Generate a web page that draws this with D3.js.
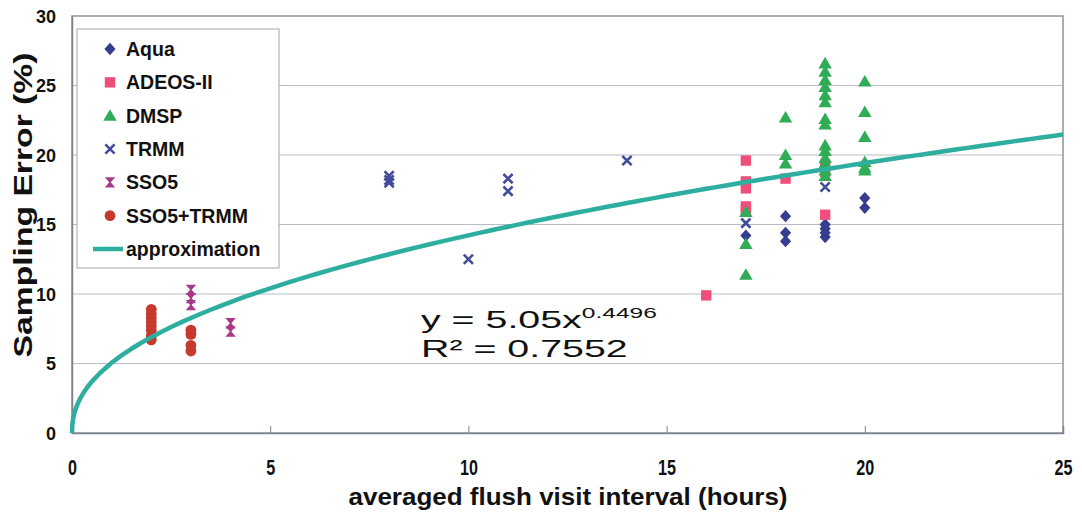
<!DOCTYPE html>
<html><head><meta charset="utf-8">
<script src="https://cdn.jsdelivr.net/npm/d3@7"></script>
<style>html,body{margin:0;padding:0;background:#fff;}svg{display:block;}</style>
</head><body>
<svg id="c" width="1082" height="516"></svg>
<script>
// ---- data ----
const xTicks = [0, 5, 10, 15, 20, 25];
const yTicks = [0, 5, 10, 15, 20, 25, 30];

const aquaX = [17, 18, 18, 18, 19, 19, 19, 19, 20, 20];
const aquaY = [14.2, 15.6, 14.4, 13.8, 15.0, 14.7, 14.4, 14.1, 16.9, 16.2];

const adeosX = [16, 17, 17, 17, 17, 17, 18, 19, 19, 19];
const adeosY = [9.9, 19.6, 18.1, 17.6, 16.3, 16.0, 18.3, 19.3, 18.8, 15.7];

const dmspX = [17, 17, 17, 18, 18, 18, 19, 19, 19, 19, 19, 19, 19, 19, 19, 19, 19, 19, 19, 19, 20, 20, 20, 20, 20, 20];
const dmspY = [15.9, 13.6, 11.4, 22.7, 20.0, 19.4, 26.6, 26.0, 25.4, 24.9, 24.3, 23.8, 22.6, 22.2, 20.7, 20.3, 19.8, 19.4, 18.9, 18.5, 25.3, 23.1, 21.3, 19.5, 19.1, 18.9];

const trmmX = [8, 8, 8, 10, 11, 11, 14, 17, 19];
const trmmY = [18.5, 18.2, 18.0, 12.5, 18.3, 17.4, 19.6, 15.1, 17.7];

const sso5X = [3, 3, 3, 3, 4, 4];
const sso5Y = [10.3, 9.7, 9.2, 7.2, 7.9, 7.3];

const comboX = [2, 2, 2, 2, 2, 2, 2, 2, 3, 3, 3, 3];
const comboY = [8.9, 8.6, 8.3, 8.0, 7.7, 7.4, 7.0, 6.7, 7.4, 7.1, 6.3, 5.9];

// fitted trendline shown on the chart: y = 5.05 x^0.4496
const fitA = 5.05, fitB = 0.4496;
const seriesNames = ["Aqua", "ADEOS-II", "DMSP", "TRMM", "SSO5", "SSO5+TRMM", "approximation"];

// ---- setup ----
const svg = d3.select("#c");
const L = 72, R = 1063, T = 16, B = 433;
const x = d3.scaleLinear().domain([0, 25]).range([L, R]);
const y = d3.scaleLinear().domain([0, 30]).range([B, T]);
const FONT = "'Liberation Sans', Arial, Helvetica, sans-serif";

const colors = {
  aqua: "#363d8e", adeos: "#f04f7c", dmsp: "#2fac55",
  trmm: "#454c9a", sso5: "#a8388b", combo: "#c53a2d", fit: "#2eae9e"
};

// grid
svg.append("g").selectAll("line").data(yTicks.filter(v => v > 0 && v < 30)).join("line")
  .attr("x1", L).attr("x2", R).attr("y1", d => y(d)).attr("y2", d => y(d))
  .attr("stroke", "#b9bcc4").attr("stroke-width", 1);

// frame
svg.append("rect").attr("x", L).attr("y", T).attr("width", R - L).attr("height", B - T)
  .attr("fill", "none").attr("stroke", "#8e949e").attr("stroke-width", 1.5);

// axes
const xAxis = d3.axisBottom(x).tickValues(xTicks).tickSize(-7).tickPadding(0).tickFormat(d3.format("d"));
const gx = svg.append("g").attr("transform", `translate(0,${B})`).call(xAxis);
gx.select(".domain").attr("stroke", "#7d838e").attr("stroke-width", 1.5);
gx.selectAll(".tick line").attr("stroke", "#7d838e");
gx.selectAll(".tick text").attr("y", 0).attr("dy", 0)
  .attr("transform", "translate(0,42) scale(0.85,1.12)")
  .style("font-family", FONT).style("font-weight", "bold").style("font-size", "19px").attr("fill", "#111");

const yAxis = d3.axisLeft(y).tickValues(yTicks).tickSize(0).tickPadding(16).tickFormat(d3.format("d"));
const gy = svg.append("g").attr("transform", `translate(${L},0)`).call(yAxis);
gy.select(".domain").attr("stroke", "#7d838e").attr("stroke-width", 1.5);
gy.selectAll(".tick text").attr("dy", "0.36em")
  .style("font-family", FONT).style("font-weight", "bold").style("font-size", "18px").attr("fill", "#111");

// axis titles
svg.append("text").attr("transform", "translate(32,205) rotate(-90)")
  .attr("text-anchor", "middle").attr("textLength", 305).attr("lengthAdjust", "spacingAndGlyphs")
  .style("font-family", FONT).style("font-weight", "bold").style("font-size", "26px").attr("fill", "#111")
  .text("Sampling Error (%)");
svg.append("text").attr("x", 568).attr("y", 505)
  .attr("text-anchor", "middle").attr("textLength", 439).attr("lengthAdjust", "spacingAndGlyphs")
  .style("font-family", FONT).style("font-weight", "bold").style("font-size", "24px").attr("fill", "#111")
  .text("averaged flush visit interval (hours)");

// ---- symbols ----
function diamond(r) { return `M0,${-r * 1.1}L${r},0L0,${r * 1.1}L${-r},0Z`; }
function square(r) { return `M${-r},${-r}H${r}V${r}H${-r}Z`; }
function triangle(r) { return `M0,${-r}L${r * 1.05},${r * 0.8}L${-r * 1.05},${r * 0.8}Z`; }
function hourglass(r) { return `M${-r},${-r}H${r}L${r * 0.15},0L${r},${r}H${-r}L${-r * 0.15},0Z`; }
function xmark(r) { return `M${-r},${-r}L${r},${r}M${r},${-r}L${-r},${r}`; }

function styleMark(sel, kind, color) {
  if (kind === "diamond") sel.attr("d", diamond(5.6)).attr("fill", color);
  if (kind === "square") sel.attr("d", square(5.2)).attr("fill", color);
  if (kind === "triangle") sel.attr("d", triangle(6.4)).attr("fill", color);
  if (kind === "x") sel.attr("d", xmark(4.6)).attr("fill", "none").attr("stroke", color).attr("stroke-width", 2.6);
  if (kind === "hourglass") sel.attr("d", hourglass(5.2)).attr("fill", color);
  if (kind === "circle") sel.attr("d", d3.symbol(d3.symbolCircle, Math.PI * 5.4 * 5.4)()).attr("fill", color);
  if (kind === "line") sel.attr("d", "M-17,0H13").attr("stroke", color).attr("stroke-width", 4.5);
}

function drawSeries(xs, ys, kind, color) {
  const pts = xs.map((v, i) => [v, ys[i]]);
  const sel = svg.append("g").selectAll("path").data(pts).join("path")
    .attr("transform", d => `translate(${x(d[0])},${y(d[1])})`);
  styleMark(sel, kind, color);
}

drawSeries(aquaX, aquaY, "diamond", colors.aqua);
drawSeries(adeosX, adeosY, "square", colors.adeos);
drawSeries(dmspX, dmspY, "triangle", colors.dmsp);
drawSeries(trmmX, trmmY, "x", colors.trmm);
drawSeries(sso5X, sso5Y, "hourglass", colors.sso5);
drawSeries(comboX, comboY, "circle", colors.combo);

// trendline
const fitXs = [0, 0.005, 0.01, 0.02, 0.04, 0.07, 0.1, 0.15, 0.2, 0.3, 0.4, 0.5, 0.7].concat(d3.range(1, 25.01, 0.25));
const line = d3.line().x(d => x(d)).y(d => y(fitA * Math.pow(d, fitB)));
svg.append("path").datum(fitXs).attr("d", line).attr("fill", "none")
  .attr("stroke", colors.fit).attr("stroke-width", 4.5).attr("stroke-linejoin", "round");

// equation
const eq = svg.append("g").attr("transform", "translate(421,0) scale(1.64,1)");
const t1 = eq.append("text").attr("x", 0).attr("y", 328)
  .style("font-family", FONT).style("font-size", "24px").attr("fill", "#111");
t1.append("tspan").text("y = 5.05x");
t1.append("tspan").attr("dy", -10).style("font-size", "15px").text("0.4496");
eq.append("text").attr("x", 0).attr("y", 357)
  .style("font-family", FONT).style("font-size", "24px").attr("fill", "#111")
  .text("R² = 0.7552");

// legend
const lg = svg.append("g");
lg.append("rect").attr("x", 77).attr("y", 29).attr("width", 202).attr("height", 239)
  .attr("fill", "#fff").attr("stroke", "#a0a4ac").attr("stroke-width", 1);
const legendKinds = ["diamond", "square", "triangle", "x", "hourglass", "circle", "line"];
const legendColors = [colors.aqua, colors.adeos, colors.dmsp, colors.trmm, colors.sso5, colors.combo, colors.fit];
const legendY = d3.scalePoint().domain(seriesNames).range([49, 249]);
seriesNames.forEach((name, i) => {
  const cy = legendY(name);
  styleMark(lg.append("path").attr("transform", `translate(110,${cy})`), legendKinds[i], legendColors[i]);
  lg.append("text").attr("x", 126).attr("y", cy).attr("dy", "0.36em")
    .style("font-family", FONT).style("font-weight", "bold").style("font-size", "19.5px").attr("fill", "#111")
    .text(name);
});
</script>
</body></html>
